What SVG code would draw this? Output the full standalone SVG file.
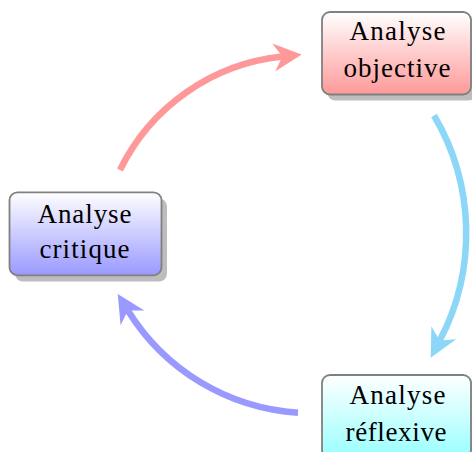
<svg xmlns="http://www.w3.org/2000/svg" width="472" height="452" viewBox="0 0 472 452">
  <defs>
    <linearGradient id="gRed" x1="0" y1="0" x2="0" y2="1">
      <stop offset="0" stop-color="#ffffff"/>
      <stop offset="1" stop-color="#ff9999"/>
    </linearGradient>
    <linearGradient id="gBlue" x1="0" y1="0" x2="0" y2="1">
      <stop offset="0" stop-color="#ffffff"/>
      <stop offset="1" stop-color="#9999ff"/>
    </linearGradient>
    <linearGradient id="gCyan" x1="0" y1="0" x2="0" y2="1">
      <stop offset="0" stop-color="#ffffff"/>
      <stop offset="1" stop-color="#99ffff"/>
    </linearGradient>
    <marker id="aRed" markerUnits="userSpaceOnUse" markerWidth="30" markerHeight="30" viewBox="0 -12 24 24" refX="7" refY="0" orient="auto">
      <path d="M0,-11.2 L22.5,0 L0,11.2 L7,0 Z" fill="#ff9999"/>
    </marker>
    <marker id="aBlue" markerUnits="userSpaceOnUse" markerWidth="30" markerHeight="30" viewBox="0 -12 24 24" refX="7" refY="0" orient="auto">
      <path d="M0,-11.2 L22.5,0 L0,11.2 L7,0 Z" fill="#9999ff"/>
    </marker>
    <marker id="aCyan" markerUnits="userSpaceOnUse" markerWidth="30" markerHeight="30" viewBox="0 -12 24 24" refX="7" refY="0" orient="auto">
      <path d="M0,-11.2 L22.5,0 L0,11.2 L7,0 Z" fill="#8cd7f7"/>
    </marker>
  </defs>
  <style>
    .shadow { fill: #bdbdbd; }
    .box { stroke: #808080; stroke-width: 1.8; }
    .lbl { font-family: "Liberation Serif", "DejaVu Serif", serif; font-size: 27px; fill: #000000; text-anchor: middle; }
    .arc { fill: none; stroke-width: 6.5; stroke-linecap: butt; }
  </style>

  <g id="connectors">
    <path class="arc" d="M120,170 A204,204 0 0 1 282.4,56.6" stroke="#ff9999" marker-end="url(#aRed)"/>
    <path class="arc" d="M434,115.5 A231,231 0 0 1 439.7,340.6" stroke="#8cd7f7" marker-end="url(#aCyan)"/>
    <path class="arc" d="M298,412.7 A216,216 0 0 1 127.9,310.5" stroke="#9999ff" marker-end="url(#aBlue)"/>
  </g>

  <g id="objective">
    <rect class="shadow" x="327.5" y="18" width="149" height="82.5" rx="8"/>
    <rect class="box" x="322" y="12" width="149" height="82.5" rx="8" fill="url(#gRed)"/>
    <text class="lbl" x="397.5" y="40" textLength="96" lengthAdjust="spacing">Analyse</text>
    <text class="lbl" x="397" y="77" textLength="107" lengthAdjust="spacing">objective</text>
  </g>

  <g id="critique">
    <rect class="shadow" x="15" y="198.5" width="152" height="83" rx="8"/>
    <rect class="box" x="9.5" y="192.3" width="152" height="83" rx="8" fill="url(#gBlue)"/>
    <text class="lbl" x="84.5" y="223.3" textLength="94" lengthAdjust="spacing">Analyse</text>
    <text class="lbl" x="84.5" y="257.8" textLength="90" lengthAdjust="spacing">critique</text>
  </g>

  <g id="reflexive">
    <rect class="shadow" x="327.5" y="381" width="149" height="82.5" rx="8"/>
    <rect class="box" x="322" y="375" width="149" height="82.5" rx="8" fill="url(#gCyan)"/>
    <text class="lbl" x="397.5" y="403.5" textLength="96" lengthAdjust="spacing">Analyse</text>
    <text class="lbl" x="396" y="441" textLength="101" lengthAdjust="spacing">réflexive</text>
  </g>
</svg>
